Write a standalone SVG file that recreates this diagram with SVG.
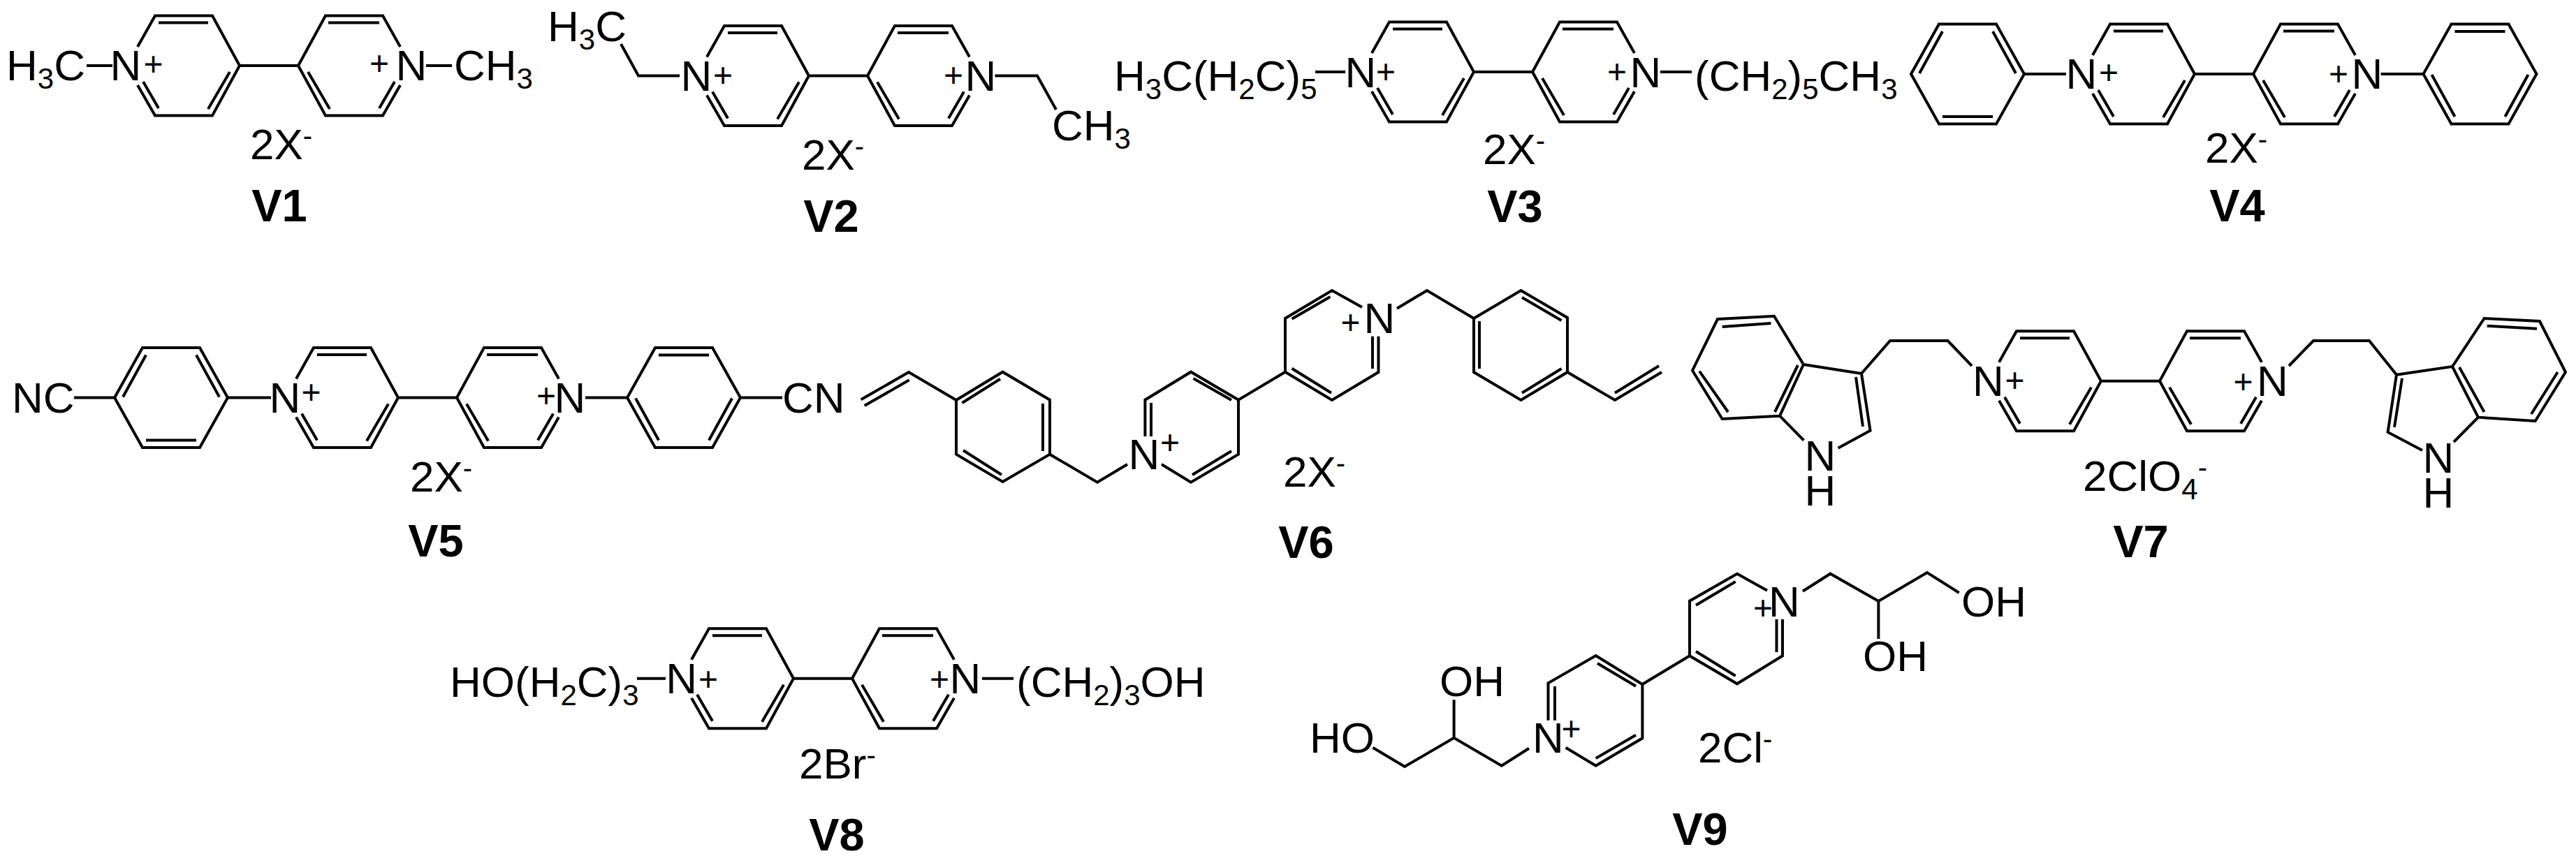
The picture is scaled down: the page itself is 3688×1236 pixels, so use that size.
<svg xmlns="http://www.w3.org/2000/svg" xmlns:xlink="http://www.w3.org/1999/xlink" width="3688" height="1236" viewBox="0 0 3688 1236">
<style>
text{font-family:"Liberation Sans",Arial,sans-serif;fill:#000}
.t{font-size:62px}
.m{font-size:62px;text-anchor:middle}
.p{font-size:48px;text-anchor:middle}
.l{font-size:65px;font-weight:bold;text-anchor:middle}
.sb{font-size:42px}
.h{font-size:40px}
.b,.b *{fill:none;stroke:#000;stroke-width:4;stroke-linejoin:miter;stroke-linecap:butt}
</style>
<defs>
<path id="core" d="M-188 -27L-163 -71.5H-81L-42 0L-81 71.5H-163L-188 28M-42 0H42M188 -27L163 -71.5H81L42 0L81 71.5H163L188 28M-158 -61.5H-87M-180 23L-158 61M-56 9L-87 62M85 -61.5H158M180 23L158 61M56 9L87 62"/>
<path id="phA" d="M-81 0L-41 -71.5H41L81 0L41 71.5H-41ZM-36 -61L-69 -1M36 -61L69 -1M-36 61H36"/>
<path id="phB" d="M-81 0L-41 -71.5H41L81 0L41 71.5H-41ZM-36 -61H36M-69 1L-36 61M69 1L36 61"/>
</defs>
<rect width="3688" height="1236" fill="#fff"/>

<g id="V1">
<g class="b"><use href="#core" x="385" y="94"/><path d="M124 94H161M610 94H647"/></g>
<text class="t" x="9" y="115">H<tspan class="sb" dy="12">3</tspan><tspan dy="-12">C</tspan></text>
<text class="m" x="180" y="115">N</text><text class="p" x="219.5" y="108">+</text>
<text class="m" x="589" y="115">N</text><text class="p" x="543" y="106.5">+</text>
<text class="t" x="650" y="115">CH<tspan class="sb" dy="12">3</tspan></text>
<text class="t" x="358" y="228">2X<tspan class="h" dy="-20">-</tspan></text>
<text class="l" x="400" y="317">V1</text>
</g>

<g id="V2">
<g class="b"><use href="#core" x="1200" y="108.5"/><path d="M889 63L914 108.5H973M1424.5 108.5H1485L1512 157"/></g>
<text class="t" x="784" y="59">H<tspan class="sb" dy="12">3</tspan><tspan dy="-12">C</tspan></text>
<text class="m" x="997" y="130">N</text><text class="p" x="1035" y="123.5">+</text>
<text class="m" x="1404" y="130">N</text><text class="p" x="1365" y="123.5">+</text>
<text class="t" x="1506" y="201">CH<tspan class="sb" dy="12">3</tspan></text>
<text class="t" x="1148" y="243">2X<tspan class="h" dy="-20">-</tspan></text>
<text class="l" x="1190" y="332">V2</text>
</g>

<g id="V3">
<g class="b"><use href="#core" x="2152" y="103"/><path d="M1883 103H1926M2377 103H2422"/></g>
<text class="t" x="1595" y="130">H<tspan class="sb" dy="12">3</tspan><tspan dy="-12">C(H</tspan><tspan class="sb" dy="12">2</tspan><tspan dy="-12">C)</tspan><tspan class="sb" dy="12">5</tspan></text>
<text class="m" x="1948" y="125">N</text><text class="p" x="1984" y="118.5">+</text>
<text class="m" x="2356" y="125">N</text><text class="p" x="2315" y="118.5">+</text>
<text class="t" x="2426" y="130">(CH<tspan class="sb" dy="12">2</tspan><tspan dy="-12">)</tspan><tspan class="sb" dy="12">5</tspan><tspan dy="-12">CH</tspan><tspan class="sb" dy="12">3</tspan></text>
<text class="t" x="2123" y="235">2X<tspan class="h" dy="-20">-</tspan></text>
<text class="l" x="2169" y="318">V3</text>
</g>

<g id="V4">
<g class="b"><use href="#core" x="3184" y="106"/><use href="#phA" x="2817" y="106"/><use href="#phB" x="3550.5" y="106"/><path d="M2898 106H2958M3408.6 106H3470"/></g>
<text class="m" x="2980" y="127">N</text><text class="p" x="3019" y="119.5">+</text>
<text class="m" x="3389" y="127">N</text><text class="p" x="3348" y="122">+</text>
<text class="t" x="3157" y="233">2X<tspan class="h" dy="-20">-</tspan></text>
<text class="l" x="3203" y="317">V4</text>
</g>

<g id="V5">
<g class="b"><use href="#core" x="612" y="569.5"/><use href="#phA" x="245" y="569.5"/><use href="#phB" x="979" y="569.5"/><path d="M106 569.5H165M325.5 569.5H388M838 569.5H898M1060 569.5H1120"/></g>
<text class="t" x="17" y="591">NC</text>
<text class="m" x="408" y="591">N</text><text class="p" x="445.5" y="578">+</text>
<text class="m" x="816" y="591">N</text><text class="p" x="782" y="583">+</text>
<text class="t" x="1120" y="591">CN</text>
<text class="t" x="587" y="704">2X<tspan class="h" dy="-20">-</tspan></text>
<text class="l" x="624" y="797">V5</text>
</g>

<g id="V6">
<g class="b"><path d="M1232.7 572.3L1301 533L1369 573M1301.7 544.3L1237.7 581
M1369 573L1435.5 532.7L1503 572.7V650.7L1435.5 690L1369 650.7ZM1377.5 577L1432 542.7M1493 578V646M1379 645L1434 680
M1503 650.7L1571 690.7L1614 665
M1663 665L1705 690.7L1773 650.7V572.7L1705 532.7L1639.4 572.7V625M1648 577V625M1708.5 542L1763 573M1763 646L1707 680
M1773 572.7L1840 532.7
M1840 532.7V456L1907 416L1950 440M1840 532.7L1907 573L1973.5 533V481.7M1965 481.7V528M1849.6 456.7L1904.5 425M1849.6 527.7L1906 562.7
M2000 441.7L2043 416L2110 456
M2110 456L2177.5 416L2244 455V533L2177.5 573L2110 533ZM2179 426L2235.5 459M2118 460V528M2179 562.7L2235.5 528
M2244 533L2312 573L2379 533M2312 562.7L2375 524"/></g>
<text class="m" x="1638" y="672">N</text><text class="p" x="1675" y="650">+</text>
<text class="m" x="1975" y="477">N</text><text class="p" x="1933.5" y="478">+</text>
<text class="t" x="1837" y="697">2X<tspan class="h" dy="-20">-</tspan></text>
<text class="l" x="1870" y="799">V6</text>
</g>

<g id="V7">
<g class="b"><use href="#core" x="3050" y="545.7"/><path d="M2459 457L2540 452.7L2582 522L2548 595.7L2465.7 600L2423 530.7ZM2465.7 468L2535.5 463M2433 531.7L2474 590M2574 523L2541 590
M2582 522L2665 535L2677.6 616.7L2631.6 641.7M2657 540L2667 610.7M2548 595.7L2582.4 630.7
M2665 535L2706 488H2788.5L2823 524
M3277 524L3312 488H3392L3431 536.7
M3431 536.7L3511 525L3556.6 456L3636 460L3673 533L3629.7 603L3548 597.7L3511 525M3560.7 466.7L3632 470.7M3661.7 533L3624 593M3521 526L3556.6 590
M3431 536.7L3418.6 619L3468 645M3439 541.7L3428 611.7M3548 597.7L3513 633"/></g>
<text class="m" x="2846.5" y="567">N</text><text class="p" x="2884.6" y="560.5">+</text>
<text class="m" x="3253.5" y="567">N</text><text class="p" x="3211.6" y="563">+</text>
<text class="m"><tspan x="2606" y="674">N</tspan><tspan x="2606" y="724">H</tspan></text>
<text class="m"><tspan x="3491" y="677">N</tspan><tspan x="3491" y="727">H</tspan></text>
<text class="t" x="2982" y="703">2ClO<tspan class="sb" dy="12">4</tspan><tspan class="h" dy="-32">-</tspan></text>
<text class="l" x="3065" y="798">V7</text>
</g>

<g id="V8">
<g class="b"><use href="#core" x="1178" y="971.7"/><path d="M912 971.7H953M1406 971.7H1451"/></g>
<text class="t" x="644" y="998">HO(H<tspan class="sb" dy="12">2</tspan><tspan dy="-12">C)</tspan><tspan class="sb" dy="12">3</tspan></text>
<text class="m" x="975.7" y="993">N</text><text class="p" x="1014" y="989">+</text>
<text class="m" x="1382" y="993">N</text><text class="p" x="1345" y="989">+</text>
<text class="t" x="1455" y="998">(CH<tspan class="sb" dy="12">2</tspan><tspan dy="-12">)</tspan><tspan class="sb" dy="12">3</tspan><tspan dy="-12">OH</tspan></text>
<text class="t" x="1144" y="1115">2Br<tspan class="h" dy="-20">-</tspan></text>
<text class="l" x="1198" y="1218">V8</text>
</g>

<g id="V9">
<g class="b"><path d="M2530 845.7L2487 821.7L2419 860.7V939.3L2487 979.3L2552 939.3V887M2543.5 887V934M2428 866.7L2484.7 833M2428 933L2484.7 968
M2581 846.7L2620.4 821.7L2689.4 861L2759 820L2804.7 849M2689.4 861V915
M2351.4 980L2419 939.3
M2241.6 1070.7L2284.7 1096.7L2351.4 1057.3V980L2284.7 939L2216.5 978.3V1031.7M2226 983V1031.7M2287 950L2342 982.7M2342 1052.7L2284.7 1086
M2189 1071.7L2149.8 1096.7L2081.6 1056.7L2011 1098L1965.5 1070.7M2081.6 1056.7V1002.3"/></g>
<text class="m" x="2554.5" y="883">N</text><text class="p" x="2524" y="887">+</text>
<text class="t" x="2808" y="883">OH</text>
<text class="t" x="2667" y="961">OH</text>
<text class="m" x="2216.5" y="1078">N</text><text class="p" x="2249.4" y="1059.5">+</text>
<text class="t" x="2061" y="997">OH</text>
<text class="t" x="1875" y="1078">HO</text>
<text class="t" x="2431" y="1092">2Cl<tspan class="h" dy="-20">-</tspan></text>
<text class="l" x="2434" y="1210">V9</text>
</g>
</svg>
